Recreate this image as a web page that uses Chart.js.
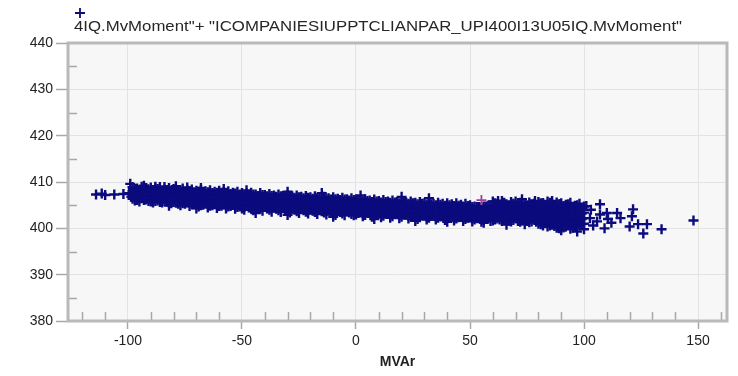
<!DOCTYPE html>
<html>
<head>
<meta charset="utf-8">
<script src="https://cdn.jsdelivr.net/npm/chart.js@4.4.1/dist/chart.umd.min.js"></script>
<style>
  html, body { margin: 0; padding: 0; background: #fff; }
  #wrap { width: 738px; height: 376px; position: relative; }
</style>
</head>
<body>
<div id="wrap"><canvas id="xyPlot" width="738" height="376"></canvas></div>
<script>
// Tension vs reactive power, first logging pass: one column of readings per even MVAr step
const mvarA = [
  -98, -96, -94, -92, -90, -88, -86, -84, -82, -80, -78, -76, -74, -72, -70, -68, -66, -64, -62, -60,
  -58, -56, -54, -52, -50, -48, -46, -44, -42, -40, -38, -36, -34, -32, -30, -28, -26, -24, -22, -20,
  -18, -16, -14, -12, -10, -8, -6, -4, -2, 0, 2, 4, 6, 8, 10, 12, 14, 16, 18, 20,
  22, 24, 26, 28, 30, 32, 34, 36, 38, 40, 42, 44, 46, 48, 50, 52, 54, 56, 58, 60,
  62, 64, 66, 68, 70, 72, 74, 76, 78, 80, 82, 84, 86, 88, 90, 92, 94, 96, 98, 100
];
const kvA = [
  [408.9, 408.0, 407.2, 406.4], [408.6, 407.7, 406.9, 406.1], [409.0, 408.1, 407.3, 406.5],
  [408.7, 407.9, 407.0, 406.2], [408.8, 407.8, 407.1, 406.3, 405.8], [408.6, 407.5, 406.8, 405.9],
  [408.9, 408.0, 407.2, 406.4, 405.7], [408.4, 407.6, 406.7, 405.9], [408.7, 407.8, 407.0, 406.2, 405.5],
  [408.5, 407.4, 406.6, 405.7], [408.3, 407.5, 406.8, 406.0, 405.3], [408.6, 407.7, 406.9, 406.1, 405.4],
  [408.2, 407.3, 406.5, 405.6], [408.4, 407.5, 406.7, 405.9, 405.2], [408.1, 407.2, 406.4, 405.5],
  [408.3, 407.4, 406.6, 405.8, 405.0], [408.0, 407.1, 406.3, 405.5], [408.2, 407.3, 406.5, 405.7, 404.9],
  [407.9, 407.0, 406.2, 405.3], [408.1, 407.2, 406.4, 405.6, 404.8], [407.8, 406.9, 406.1, 405.2],
  [408.0, 407.1, 406.3, 405.5, 404.7], [407.7, 406.8, 406.0, 405.1], [407.9, 407.0, 406.2, 405.4, 404.6],
  [407.6, 406.7, 405.9, 405.0, 404.3], [407.5, 406.6, 405.8, 404.9], [407.7, 406.8, 406.0, 405.2, 404.3],
  [407.3, 406.4, 405.6, 404.7], [407.6, 406.7, 405.9, 405.1, 404.2], [407.2, 406.3, 405.5, 404.6],
  [407.4, 406.5, 405.7, 404.9, 404.0], [407.1, 406.2, 405.4, 404.5], [407.3, 406.4, 405.6, 404.8, 403.9],
  [407.0, 406.1, 405.3, 404.4], [407.2, 406.3, 405.5, 404.7, 403.8], [406.9, 406.0, 405.2, 404.3],
  [407.1, 406.2, 405.4, 404.6, 403.7], [406.8, 405.9, 405.1, 404.2], [407.0, 406.1, 405.3, 404.5, 403.6],
  [406.7, 405.8, 405.0, 404.1], [406.9, 406.0, 405.2, 404.4, 403.5], [406.6, 405.7, 404.9, 404.0],
  [406.8, 405.9, 405.1, 404.3, 403.4], [406.5, 405.6, 404.8, 403.9], [406.7, 405.8, 405.0, 404.2, 403.3],
  [406.4, 405.5, 404.7, 403.8], [406.6, 405.7, 404.9, 404.1, 403.2], [406.3, 405.4, 404.6, 403.7],
  [406.5, 405.6, 404.8, 404.0, 403.1], [406.2, 405.3, 404.5, 403.6, 403.0], [406.1, 405.2, 404.4, 403.5],
  [406.3, 405.4, 404.6, 403.8, 402.9], [406.0, 405.1, 404.3, 403.4], [406.2, 405.3, 404.5, 403.7, 402.8],
  [405.9, 405.0, 404.2, 403.3], [406.1, 405.2, 404.4, 403.6, 402.7], [405.8, 404.9, 404.1, 403.2],
  [406.0, 405.1, 404.3, 403.5, 402.6], [405.7, 404.8, 404.0, 403.1], [405.9, 405.0, 404.2, 403.4, 402.5],
  [405.6, 404.7, 403.9, 403.0], [405.8, 404.9, 404.1, 403.3, 402.5], [405.5, 404.6, 403.8, 402.9],
  [405.7, 404.8, 404.0, 403.2, 402.4], [405.4, 404.5, 403.7, 402.8], [405.6, 404.7, 403.9, 403.1, 402.3],
  [405.3, 404.4, 403.6, 402.7], [405.5, 404.6, 403.8, 403.0, 402.3], [405.3, 404.3, 403.5, 402.6],
  [405.4, 404.5, 403.7, 402.9, 402.2], [405.2, 404.3, 403.5, 402.6], [405.4, 404.4, 403.6, 402.8, 402.1],
  [405.1, 404.2, 403.4, 402.5], [405.3, 404.4, 403.6, 402.8, 402.0], [405.0, 404.1, 403.3, 402.4],
  [404.7, 404.0, 403.5, 402.7, 401.9], [404.6, 403.9, 403.2, 402.3], [404.7, 404.0, 403.4, 402.6, 401.8],
  [404.9, 404.0, 403.1, 402.2], [405.8, 404.9, 404.1, 403.3, 402.5, 401.7],
  [405.3, 404.0, 403.0, 402.1], [405.9, 404.8, 403.9, 403.2, 402.4, 401.6],
  [405.2, 404.2, 403.0, 402.0], [405.7, 404.7, 403.8, 403.1, 402.3, 401.5],
  [405.8, 404.4, 403.3, 402.1], [405.5, 404.6, 403.7, 402.9, 402.2, 401.4],
  [405.1, 404.3, 403.4, 402.0], [405.6, 404.8, 403.6, 402.8, 402.1, 401.3],
  [405.3, 404.1, 403.2, 401.9], [405.7, 404.9, 403.8, 402.7, 401.8, 401.0],
  [405.4, 404.2, 403.1, 402.3, 400.6], [405.8, 404.6, 403.5, 402.5, 401.6, 400.4],
  [405.2, 404.0, 402.9, 401.9, 400.8], [405.6, 404.5, 403.3, 402.2, 401.2, 400.1],
  [405.4, 404.3, 403.0, 401.9, 400.7, 399.6], [405.1, 403.8, 402.6, 401.5, 400.4],
  [405.5, 404.2, 402.9, 401.8, 400.9, 399.9], [404.9, 403.6, 402.4, 401.3, 400.3],
  [405.3, 403.9, 402.7, 401.6, 400.6], [404.7, 403.4, 402.2, 401.0, 399.8]
];

// second logging pass, odd MVAr steps
const mvarB = [
  -97, -95, -93, -91, -89, -87, -85, -83, -81, -79, -77, -75, -73, -71, -69, -67, -65, -63, -61, -59,
  -57, -55, -53, -51, -49, -47, -45, -43, -41, -39, -37, -35, -33, -31, -29, -27, -25, -23, -21, -19,
  -17, -15, -13, -11, -9, -7, -5, -3, -1, 1, 3, 5, 7, 9, 11, 13, 15, 17, 19, 21,
  23, 25, 27, 29, 31, 33, 35, 37, 39, 41, 43, 45, 47, 49, 51, 53, 55, 57, 59, 61,
  63, 65, 67, 69, 71, 73, 75, 77, 79, 81, 83, 85, 87, 89, 91, 93, 95, 97, 99
];
const kvB = [
  [408.5, 407.6, 406.8, 406.0], [408.3, 407.3, 406.5, 405.8], [408.6, 407.7, 406.9, 406.1],
  [408.4, 407.4, 406.6, 405.9], [408.3, 407.3, 406.5, 405.6], [408.5, 407.6, 406.8, 406.0],
  [408.2, 407.3, 406.4, 405.6], [408.3, 407.4, 406.6, 405.8], [408.1, 407.2, 406.3, 405.4],
  [408.0, 407.1, 406.3, 405.5], [408.2, 407.3, 406.5, 405.7, 405.0], [407.9, 407.0, 406.2, 405.3],
  [408.0, 407.1, 406.3, 405.5, 404.8], [407.8, 406.9, 406.1, 405.2], [407.9, 407.0, 406.2, 405.4, 404.7],
  [407.7, 406.8, 405.9, 405.1], [407.8, 406.9, 406.1, 405.3, 404.5], [407.6, 406.7, 405.8, 405.0],
  [407.7, 406.8, 406.0, 405.2, 404.4], [407.5, 406.6, 405.7, 404.9], [407.6, 406.7, 405.9, 405.1, 404.3],
  [407.4, 406.5, 405.6, 404.8], [407.5, 406.6, 405.8, 405.0, 404.2], [407.3, 406.4, 405.5, 404.7],
  [407.2, 406.3, 405.5, 404.6, 404.0], [407.1, 406.2, 405.4, 404.5], [407.3, 406.4, 405.6, 404.8, 403.9],
  [407.0, 406.1, 405.3, 404.4], [407.2, 406.3, 405.5, 404.7, 403.8], [406.9, 406.0, 405.2, 404.3],
  [407.0, 406.1, 405.3, 404.5, 403.6], [406.8, 405.9, 405.1, 404.2], [406.9, 406.0, 405.2, 404.4, 403.5],
  [406.7, 405.8, 405.0, 404.1], [406.8, 405.9, 405.1, 404.3, 403.4], [406.6, 405.7, 404.9, 404.0],
  [406.7, 405.8, 405.0, 404.2, 403.3], [406.5, 405.6, 404.8, 403.9], [406.6, 405.7, 404.9, 404.1, 403.2],
  [406.4, 405.5, 404.7, 403.8], [406.5, 405.6, 404.8, 404.0, 403.1], [406.3, 405.4, 404.6, 403.7],
  [406.4, 405.5, 404.7, 403.9, 403.0], [406.2, 405.3, 404.5, 403.6], [406.3, 405.4, 404.6, 403.8, 402.9],
  [406.1, 405.2, 404.4, 403.5], [406.2, 405.3, 404.5, 403.7, 402.8], [406.0, 405.1, 404.3, 403.4],
  [406.1, 405.2, 404.4, 403.6, 402.8], [405.9, 405.0, 404.2, 403.3], [405.8, 404.9, 404.1, 403.2, 402.6],
  [405.9, 405.0, 404.2, 403.4], [405.7, 404.8, 404.0, 403.1, 402.5], [405.8, 404.9, 404.1, 403.3],
  [405.6, 404.7, 403.9, 403.0, 402.4], [405.7, 404.8, 404.0, 403.2], [405.5, 404.6, 403.8, 402.9, 402.3],
  [405.6, 404.7, 403.9, 403.1], [405.4, 404.5, 403.7, 402.8, 402.2], [405.5, 404.6, 403.8, 403.0],
  [405.3, 404.4, 403.6, 402.7, 402.1], [405.4, 404.5, 403.7, 402.9], [405.2, 404.3, 403.5, 402.6, 402.0],
  [405.3, 404.4, 403.6, 402.8], [405.1, 404.2, 403.4, 402.5, 401.9], [405.2, 404.3, 403.5, 402.7],
  [405.0, 404.1, 403.3, 402.5, 401.9], [405.1, 404.2, 403.4, 402.6], [404.9, 404.0, 403.2, 402.4, 401.8],
  [405.0, 404.1, 403.3, 402.5], [404.8, 403.9, 403.1, 402.3, 401.7], [404.9, 404.0, 403.2, 402.4],
  [404.7, 403.8, 403.0, 402.2, 401.6], [404.8, 403.9, 403.1, 402.3], [404.6, 403.7, 402.9, 402.1, 401.5],
  [404.6, 403.9, 403.0, 402.2], [404.5, 403.8, 402.8, 402.0, 401.4], [404.7, 404.0, 403.4, 402.5],
  [405.0, 404.2, 403.3, 402.4, 401.6], [405.4, 404.4, 403.6, 402.8, 401.9],
  [405.1, 404.3, 403.4, 402.7, 401.9], [405.5, 404.6, 403.5, 402.6, 401.8],
  [405.0, 404.3, 403.4, 402.5, 401.7], [405.3, 404.1, 403.5, 402.6, 401.8],
  [405.0, 404.0, 403.1, 402.5, 401.6], [405.4, 404.5, 403.8, 402.6, 401.7],
  [405.0, 404.1, 403.0, 402.4, 401.6], [405.2, 404.4, 403.5, 402.5, 401.5],
  [405.0, 404.2, 403.3, 402.3, 401.4], [405.4, 404.5, 403.5, 402.6, 401.8, 400.9],
  [405.1, 404.0, 403.0, 402.0, 401.1], [405.5, 404.4, 403.2, 402.2, 401.3, 400.6],
  [404.9, 403.8, 402.6, 401.6, 400.5], [405.2, 404.1, 403.0, 401.8, 400.9, 400.0],
  [404.8, 403.6, 402.4, 401.3, 400.2], [405.2, 403.9, 402.7, 401.6, 400.6],
  [404.6, 403.4, 402.2, 401.1, 400.1], [405.0, 403.7, 402.5, 401.4, 400.4],
  [404.4, 403.2, 402.0, 400.9]
];

// isolated readings outside the dense band
const strayMvar = [
  -114, -111.5, -110, -106, -102, -99, -99.5, -98.5,
  -93, -88, -84, -79, -74, -68, -58, -48, -30, -15, 2, 20, 32,
  -82, -70, -44, -30, -10, 8, 26, 40, 56, 66, 74,
  62.3, 64.5, 72.8, 74, 78.5, 82, 86, 89.5,
  97, 101, 102.6, 103, 104, 105.7, 107, 107, 109, 110, 110.5, 112, 114.5, 116,
  120, 121, 121.5, 123.7, 126, 127.6, 134, 148
];
const strayKv = [
  407.3, 407.5, 407.2, 407.3, 407.4, 409.6, 407.6, 406.8,
  409.2, 409.0, 408.9, 409.1, 408.8, 408.7, 408.5, 408.2, 407.9, 407.6, 407.1, 406.8, 406.5,
  404.9, 404.3, 403.3, 402.9, 402.5, 402.0, 401.6, 401.4, 401.2, 400.8, 400.9,
  405.9, 405.4, 406.3, 404.3, 405.9, 405.4, 405.9, 405.2,
  399.3, 404.8, 402.2, 404.0, 400.6, 401.5, 405.2, 403.0, 400.0, 403.3, 402.0, 401.2, 403.3, 402.2,
  400.4, 402.6, 404.1, 400.9, 398.9, 400.9, 399.8, 401.7
];

// second tag, a single reading
const otherMvar = [55];
const otherKv = [406.1];

const xTicks = [-100, -50, 0, 50, 100, 150];
const xMinor = [-120, -110, -90, -80, -70, -60, -40, -30, -20, -10, 10, 20, 30, 40, 60, 70, 80, 90, 110, 120, 130, 140, 160];
const yMinor = [385, 395, 405, 415, 425, 435];

const tagLabel = '4IQ.MvMoment"+ "ICOMPANIESIUPPTCLIANPAR_UPI400I13U05IQ.MvMoment"';
const navy = '#0b0b7e';
const fontFamily = '"Liberation Sans", Arial, sans-serif';

const toPoints = (xs, rows) => xs.flatMap((x, i) => rows[i].map(y => ({ x, y })));
const bandPoints = toPoints(mvarA, kvA).concat(toPoints(mvarB, kvB));
const strayPoints = strayMvar.map((x, i) => ({ x, y: strayKv[i] }));
const otherPoints = otherMvar.map((x, i) => ({ x, y: otherKv[i] }));

// plot background, frame, minor ticks and the tag header
const framePlugin = {
  id: 'frame',
  beforeDraw(chart) {
    const { ctx, chartArea: a } = chart;
    ctx.save();
    ctx.fillStyle = '#f7f7f7';
    ctx.fillRect(a.left, a.top, a.right - a.left, a.bottom - a.top);
    ctx.restore();
  },
  afterDraw(chart) {
    const { ctx, chartArea: a, scales } = chart;
    ctx.save();
    ctx.strokeStyle = '#a8a8a8';
    ctx.lineWidth = 1.5;
    ctx.beginPath();
    xMinor.forEach(v => {
      const px = Math.round(scales.x.getPixelForValue(v)) + 0.5;
      ctx.moveTo(px, a.bottom);
      ctx.lineTo(px, a.bottom - 9);
    });
    yMinor.forEach(v => {
      const py = Math.round(scales.y.getPixelForValue(v)) + 0.5;
      ctx.moveTo(a.left, py);
      ctx.lineTo(a.left + 9, py);
    });
    ctx.stroke();

    ctx.strokeStyle = '#b9b9b9';
    ctx.lineWidth = 3;
    ctx.strokeRect(a.left, a.top, a.right - a.left, a.bottom - a.top);

    // header: marker and tag names, stretched to the header width
    ctx.strokeStyle = navy;
    ctx.lineWidth = 1.8;
    ctx.beginPath();
    ctx.moveTo(75, 13); ctx.lineTo(85, 13);
    ctx.moveTo(80, 8); ctx.lineTo(80, 18);
    ctx.stroke();
    ctx.fillStyle = '#262626';
    ctx.font = '14px ' + fontFamily;
    ctx.textBaseline = 'middle';
    const w = ctx.measureText(tagLabel).width;
    ctx.translate(74, 27);
    ctx.scale(608 / w, 1);
    ctx.fillText(tagLabel, 0, 0);
    ctx.restore();
  }
};

new Chart(document.getElementById('xyPlot'), {
  type: 'scatter',
  data: {
    datasets: [
      // first dataset is painted last, so the lone reading stays visible
      { data: otherPoints, borderColor: '#a0409a', backgroundColor: '#a0409a', borderWidth: 1.8 },
      { data: bandPoints, borderColor: navy, backgroundColor: navy },
      { data: strayPoints, borderColor: navy, backgroundColor: navy }
    ]
  },
  options: {
    responsive: false,
    animation: false,
    devicePixelRatio: 1,
    layout: { padding: { top: 43, right: 11, left: 0, bottom: 0 } },
    elements: {
      point: { pointStyle: 'cross', radius: 5, borderWidth: 2.4, hoverRadius: 5 }
    },
    plugins: {
      legend: { display: false },
      tooltip: { enabled: false }
    },
    scales: {
      x: {
        type: 'linear',
        min: -126.3,
        max: 162.7,
        afterBuildTicks: s => { s.ticks = xTicks.map(v => ({ value: v })); },
        afterFit: s => { s.height = 55; },
        border: { display: false },
        grid: { color: '#e3e3e3', lineWidth: 1, tickColor: '#a8a8a8', tickLength: 8, tickWidth: 1.5 },
        ticks: {
          color: '#222',
          padding: 4,
          font: { family: fontFamily, size: 14 }
        },
        title: {
          display: true,
          text: 'MVAr',
          color: '#222',
          padding: { top: 0, bottom: 5 },
          font: { family: fontFamily, size: 14, weight: 'bold' }
        }
      },
      y: {
        min: 380,
        max: 440,
        afterFit: s => { s.width = 68; },
        border: { display: false },
        grid: { color: '#e3e3e3', lineWidth: 1, tickColor: '#a8a8a8', tickLength: 12, tickWidth: 1.5 },
        ticks: {
          stepSize: 10,
          color: '#222',
          padding: 3,
          font: { family: fontFamily, size: 14 }
        }
      }
    }
  },
  plugins: [framePlugin]
});
</script>
</body>
</html>
